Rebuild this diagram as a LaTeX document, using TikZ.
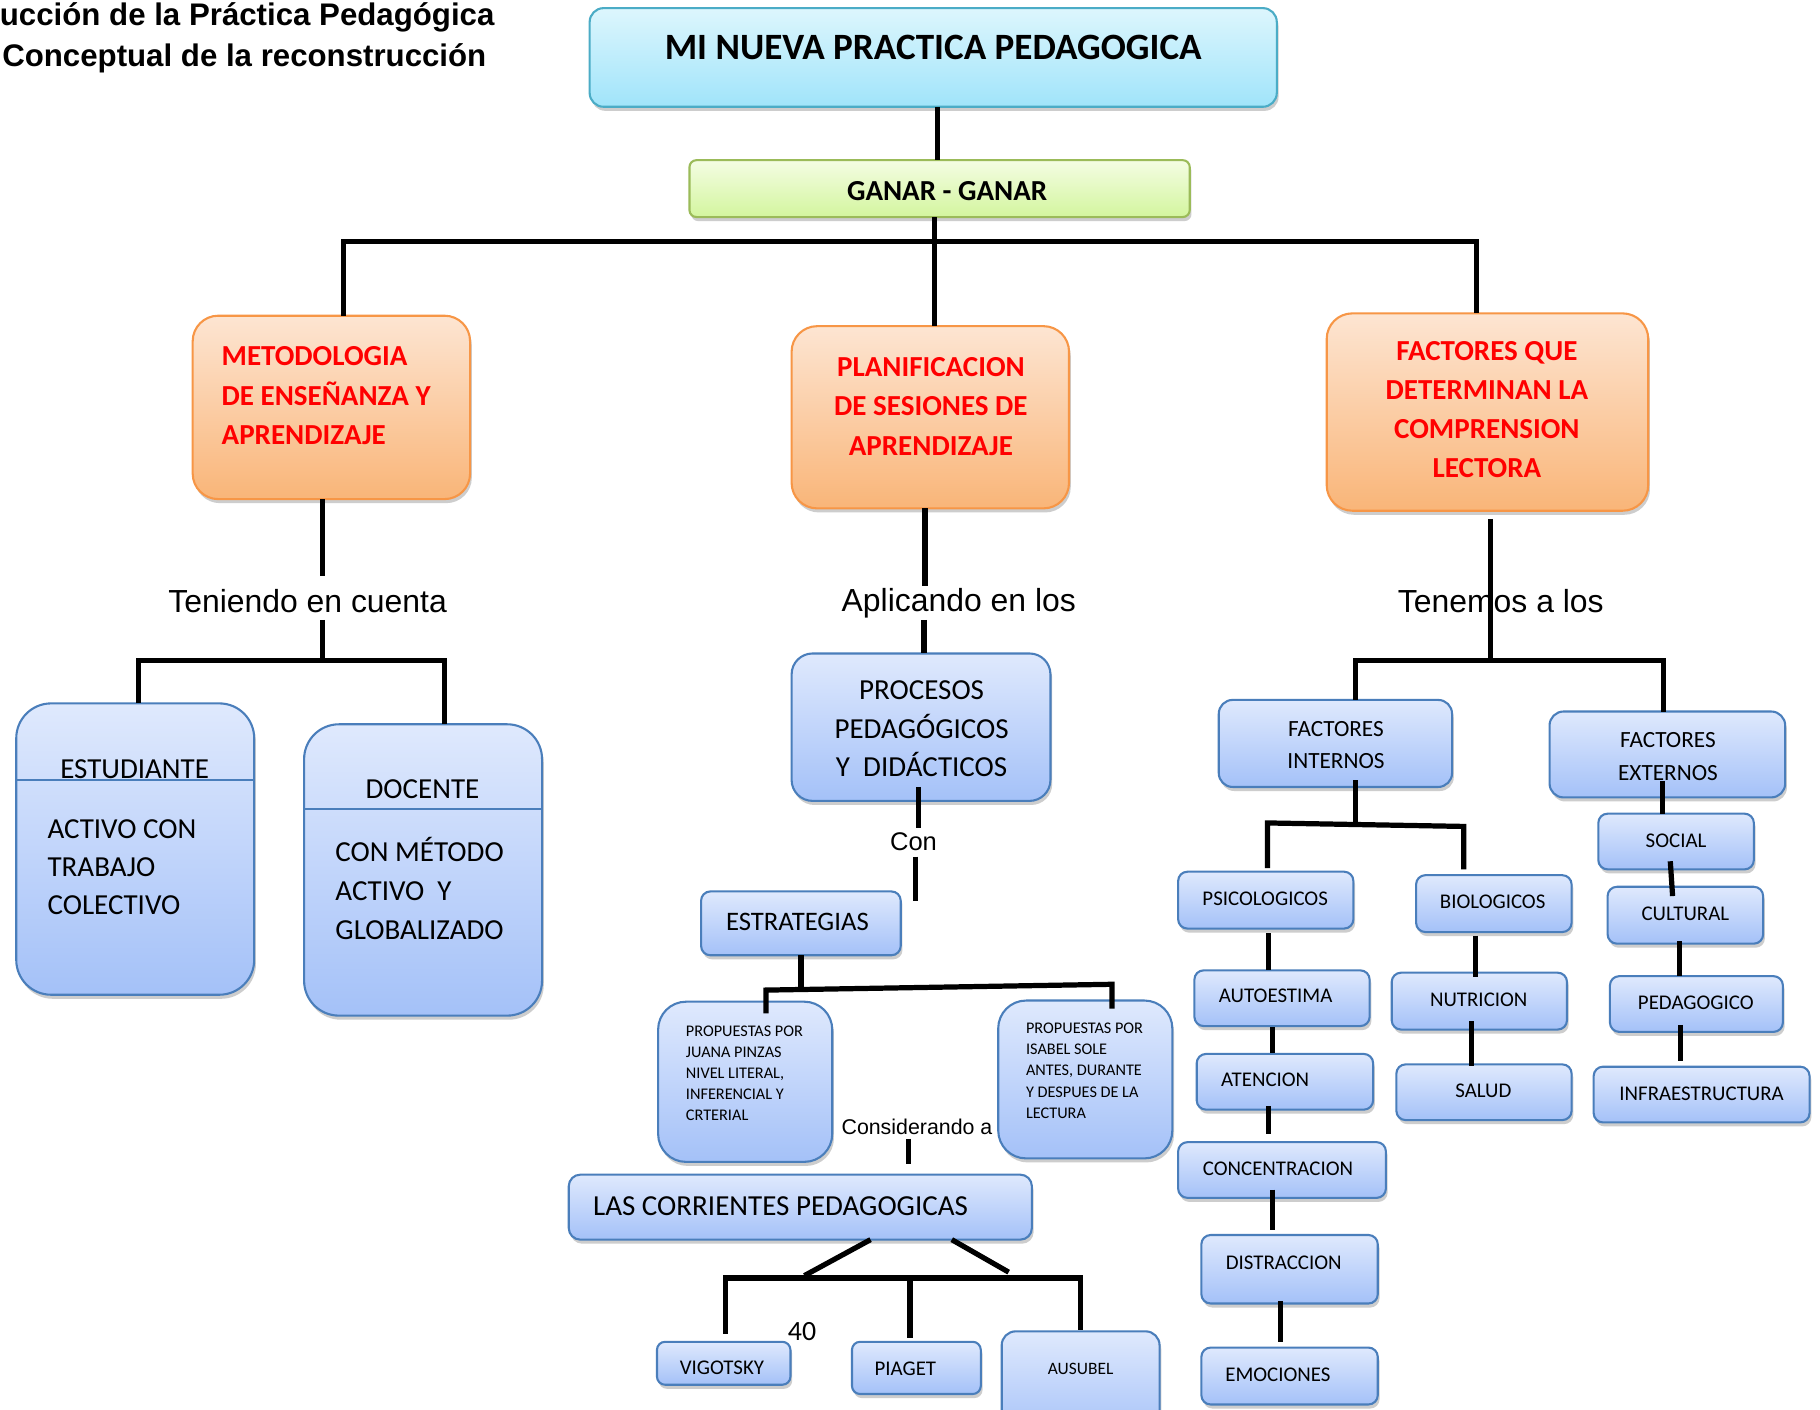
\documentclass[tikz,border=0pt]{standalone}
\usepackage{fontspec}
\setmainfont{Carlito}
\newfontfamily\arialf{Liberation Sans}
\usetikzlibrary{shadows,calc}
\definecolor{cyantop}{HTML}{DDF6FD}
\definecolor{cyanbot}{HTML}{A0E4FA}
\definecolor{cyanbd}{HTML}{4BACC6}
\definecolor{greentop}{HTML}{F4FDE3}
\definecolor{greenbot}{HTML}{D3F59E}
\definecolor{greenbd}{HTML}{9BBB59}
\definecolor{orangetop}{HTML}{FDE5D2}
\definecolor{orangebot}{HTML}{F9B578}
\definecolor{orangebd}{HTML}{F79646}
\definecolor{bluetop}{HTML}{DFE9FD}
\definecolor{bluebot}{HTML}{A4C1F8}
\definecolor{bluebd}{HTML}{4A7EBB}
\newcommand\myfs[2]{\fontsize{#1}{#2}\selectfont}
\newcommand\mkbox[6]{\node[#1, minimum width={(#5)-(#3)}, minimum height={(#6)-(#4)}] (#2) at ({((#3)+(#5))/2},{((#4)+(#6))/2}) {};}
\tikzset{
  shadowed/.style={drop shadow={shadow xshift=1.5pt, shadow yshift=-3.5pt, opacity=0.28, fill=black!70}},
  boxbase/.style={draw, line width=1.8pt, outer sep=0pt, inner sep=0pt, shadowed},
  cyanbox/.style={boxbase, draw=cyanbd, top color=cyantop, bottom color=cyanbot, rounded corners=12pt},
  greenbox/.style={boxbase, draw=greenbd, top color=greentop, bottom color=greenbot, rounded corners=6pt},
  orangebox/.style={boxbase, draw=orangebd, top color=orangetop, bottom color=orangebot, rounded corners=22pt},
  bluebox/.style={boxbase, draw=bluebd, top color=bluetop, bottom color=bluebot, rounded corners=#1},
  bluebox/.default=8pt,
  conn/.style={line width=4.5pt, black},
  divline/.style={line width=1.8pt, draw=bluebd},
  txt/.style={inner sep=0pt, outer sep=0pt},
  redtxt/.style={txt, text=red, font=\bfseries\myfs{25}{34}},
  lbl/.style={txt, font=\arialf\myfs{27.5}{32}},
  btxt/.style={txt, font=\myfs{25}{33}},
  stxt/.style={txt, font=\myfs{14}{18.2}},
  mtxt/.style={txt, font=\myfs{18}{22}},
}
\begin{document}
\begin{tikzpicture}[x=1pt,y=-1pt]
\fill[white] (0,0) rectangle (1568,1214);
\useasboundingbox (0,0) rectangle (1568,1214);

% ---------- boxes ----------
\mkbox{cyanbox}{mi}{508}{7}{1100}{92}
\mkbox{greenbox}{ganar}{594}{138}{1025}{187}
\mkbox{orangebox}{metod}{166}{272}{405}{430}
\mkbox{orangebox}{plan}{682}{281}{921}{438}
\mkbox{orangebox}{factq}{1143}{270}{1420}{440}
\mkbox{bluebox=30pt}{estu}{14}{606}{219}{857}
\mkbox{bluebox=30pt}{doce}{262}{624}{467}{875}
\mkbox{bluebox=18pt}{proc}{682}{563}{905}{690}
\mkbox{bluebox=8pt}{estr}{604}{768}{776}{823}
\mkbox{bluebox=24pt}{juana}{567}{863}{717}{1001}
\mkbox{bluebox=24pt}{isabel}{860}{862}{1010}{998}
\mkbox{bluebox=10pt}{corr}{490}{1012}{889}{1068}
\mkbox{bluebox=7pt}{vigo}{566}{1156}{681}{1193}
\mkbox{bluebox=7pt}{piag}{734}{1156}{845}{1201}
\mkbox{bluebox=12pt}{ausu}{863}{1147}{999}{1240}
\mkbox{bluebox=12pt}{fint}{1050}{603}{1251}{678}
\mkbox{bluebox=12pt}{fext}{1335}{613}{1538}{687}
\mkbox{bluebox}{psico}{1015}{751}{1166}{800}
\mkbox{bluebox}{auto}{1029}{836}{1180}{884}
\mkbox{bluebox}{aten}{1031}{908}{1183}{956}
\mkbox{bluebox}{conc}{1015}{984}{1194}{1032}
\mkbox{bluebox}{dist}{1035}{1064}{1187}{1123}
\mkbox{bluebox}{emoc}{1035}{1161}{1187}{1210}
\mkbox{bluebox}{bio}{1220}{754}{1354}{803}
\mkbox{bluebox}{nutr}{1199}{838}{1350}{887}
\mkbox{bluebox}{salud}{1203}{917}{1354}{965}
\mkbox{bluebox}{soc}{1377}{701}{1511}{749}
\mkbox{bluebox}{cult}{1385}{764}{1519}{813}
\mkbox{bluebox}{peda}{1387}{841}{1536}{889}
\mkbox{bluebox}{infra}{1373}{919}{1559}{967}

\draw[divline] ($(estu.north west)+(0,66)$) -- ($(estu.north east)+(0,66)$);
\draw[divline] ($(doce.north west)+(0,73)$) -- ($(doce.north east)+(0,73)$);

% ---------- texts ----------
\node[txt, anchor=base east, font=\arialf\bfseries\myfs{26.9}{30}] (ti1) at (426,22) {ucción de la Práctica Pedagógica};
\node[txt, anchor=base east, font=\arialf\bfseries\myfs{26.9}{30}] (ti2) at (419,57) {Conceptual de la reconstrucción};

\node[txt, font=\bfseries\myfs{32}{36}] (tmi) at (804,41) {MI NUEVA PRACTICA PEDAGOGICA};
\node[txt, font=\bfseries\myfs{25}{28}] (tganar) at (816,165) {GANAR - GANAR};
\node[redtxt, anchor=west, align=left] (tmetod) at (191,341) {METODOLOGIA\\DE ENSEÑANZA Y\\APRENDIZAJE};
\node[redtxt, align=center] (tplan) at (802,350) {PLANIFICACION\\DE SESIONES DE\\APRENDIZAJE};
\node[redtxt, align=center, font=\bfseries\myfs{25}{33.5}] (tfact) at (1281,353) {FACTORES QUE\\DETERMINAN LA\\COMPRENSION\\LECTORA};

\node[lbl] (lab1) at (265,518) {Teniendo en cuenta};
\node[lbl] (lab2) at (826,520) {Aplicando en los};
\node[lbl] (lab3) at (1293,518) {Tenemos a los};

\node[btxt] (testu) at (116,663) {ESTUDIANTE};
\node[btxt, anchor=west, align=left] (testub) at (41,747) {ACTIVO CON\\TRABAJO\\COLECTIVO};
\node[btxt] (tdoce) at (364,680) {DOCENTE};
\node[btxt, anchor=west, align=left, font=\myfs{25}{33.5}] (tdoceb) at (289,765.5) {CON MÉTODO\\ACTIVO\ \ Y\\GLOBALIZADO};
\node[btxt, align=center] (tproc) at (794,628) {PROCESOS\\PEDAGÓGICOS\\Y\ \ DIDÁCTICOS};
\node[lbl, font=\arialf\myfs{22}{26}] (lab4) at (787,725) {Con};
\node[txt, font=\myfs{23}{27}] (testr) at (687,794) {ESTRATEGIAS};
\node[stxt, anchor=west, align=left] (tjuana) at (591,924.5) {PROPUESTAS POR\\JUANA PINZAS\\NIVEL LITERAL,\\INFERENCIAL Y\\CRTERIAL};
\node[stxt, anchor=west, align=left] (tisabel) at (884,922.5) {PROPUESTAS POR\\ISABEL SOLE\\ANTES, DURANTE\\Y DESPUES DE LA\\LECTURA};
\node[lbl, font=\arialf\myfs{18.4}{22}] (lab5) at (790,971) {Considerando a};
\node[btxt, anchor=west] (tcorr) at (511,1039) {LAS CORRIENTES PEDAGOGICAS};
\node[txt, font=\myfs{24}{28}] (t40) at (691,1147) {40};
\node[mtxt] (tvigo) at (622,1178) {VIGOTSKY};
\node[mtxt] (tpiag) at (780,1179) {PIAGET};
\node[txt, font=\myfs{15}{18}] (tausu) at (931,1179) {AUSUBEL};
\node[txt, font=\myfs{20}{28}, align=center] (tfint) at (1151,642) {FACTORES\\INTERNOS};
\node[txt, font=\myfs{20}{28}, align=center] (tfext) at (1437,652) {FACTORES\\EXTERNOS};
\node[mtxt] (tpsico) at (1090,774) {PSICOLOGICOS};
\node[mtxt] (tauto) at (1099,858) {AUTOESTIMA};
\node[mtxt] (taten) at (1090,930) {ATENCION};
\node[mtxt] (tconc) at (1101,1007) {CONCENTRACION};
\node[mtxt] (tdist) at (1106,1088) {DISTRACCION};
\node[mtxt] (temoc) at (1101,1184) {EMOCIONES};
\node[mtxt] (tbio) at (1286,777) {BIOLOGICOS};
\node[mtxt] (tnutr) at (1274,861) {NUTRICION};
\node[mtxt] (tsalud) at (1278,940) {SALUD};
\node[mtxt] (tsoc) at (1444,724) {SOCIAL};
\node[mtxt] (tcult) at (1452,787) {CULTURAL};
\node[mtxt] (tpeda) at (1461,864) {PEDAGOGICO};
\node[mtxt] (tinfra) at (1466,942) {INFRAESTRUCTURA};

% ---------- junction coordinates ----------
\coordinate (bus1) at (805,208);
\coordinate (l1a) at (278,496);
\coordinate (l1b) at (278,534);
\coordinate (bus2) at (278,569);
\coordinate (l2a) at (797,505);
\coordinate (l2b) at (796,534);
\coordinate (bus3) at (1284,569);
\coordinate (l3a) at (791,713);
\coordinate (l3b) at (789,738);
\coordinate (l4) at (783,981);
\coordinate (d1) at (693,1099);
\coordinate (d2) at (869,1096);
\coordinate (bus5) at (784,1101);
\coordinate (bus6) at (1168,710);
\coordinate (b6l) at (1092,709);
\coordinate (b6r) at (1261,712);

% ---------- connectors ----------
\draw[conn] ($(mi.south)+(4,0)$) -- ($(ganar.north)+(-1.5,0)$);
\draw[conn] ($(ganar.south)+(-4.5,0)$) -- (bus1);
\draw[conn] ($(metod.north)+(10.5,0)$) |- (bus1) -| ($(factq.north)+(-9.5,0)$);
\draw[conn] (bus1) -- ($(plan.north)+(3.5,0)$);

\draw[conn] ($(metod.south)+(-7.5,0)$) -- (l1a);
\draw[conn] (l1b) -- (bus2);
\draw[conn] ($(estu.north)+(2.5,0)$) |- (bus2) -| ($(doce.north)+(18.5,0)$);

\draw[conn] ($(plan.south)+(-4.5,0)$) -- (l2a);
\draw[conn] (l2b) -- ($(proc.north)+(2.5,0)$);

\draw[conn] ($(factq.south)+(2.5,7)$) -- (bus3);
\draw[conn] ($(fint.north)+(17.5,0)$) |- (bus3) -| ($(fext.north)+(-3.5,0)$);

\draw[conn] ($(proc.south)+(-2.5,-12)$) -- (l3a);
\draw[conn] (l3b) -- ($(estr.north east)+(13,8)$);

\draw[conn] (estr.south) -- ($(estr.south)+(0,32)$);
\draw[conn] ($(juana.north)+(18,10)$) -- ($(juana.north)+(18,-10)$) -- ($(isabel.north)+(23,-14)$) -- ($(isabel.north)+(23,7)$);

\draw[conn] (l4) -- ($(corr.north)+(93.5,-9)$);

\draw[conn] ($(corr.south)+(60.5,0)$) -- (d1);
\draw[conn] ($(corr.south)+(130.5,0)$) -- (d2);
\draw[conn] ($(vigo.north)+(1.5,-7)$) |- (bus5) -| ($(ausu.north)+(0,-1)$);
\draw[conn] (bus5) -- ($(piag.north)+(-5.5,-3)$);

\draw[conn] ($(fint.south)+(17.5,-6)$) -- (bus6);
\draw[conn] ($(psico.north)+(1.5,-3)$) -- (b6l) -- (b6r) -- ($(bio.north)+(-26,-5)$);
\draw[conn] ($(fext.south)+(-4.5,-14)$) -- ($(soc.north)+(-12,0)$);

\draw[conn] ($(psico.south)+(2.5,4)$) -- ($(auto.north)+(-11.5,0)$);
\draw[conn] ($(auto.south)+(-8.5,1)$) -- ($(aten.north)+(-11,-1)$);
\draw[conn] ($(aten.south)+(-14,-3)$) -- ($(conc.north)+(-11.5,-7)$);
\draw[conn] ($(conc.south)+(-8.5,-7)$) -- ($(dist.north)+(-15,-4)$);
\draw[conn] ($(dist.south)+(-8,-2)$) -- ($(emoc.north)+(-8,-5)$);
\draw[conn] ($(bio.south)+(-16,3)$) -- ($(nutr.north)+(-3.5,4)$);
\draw[conn] ($(nutr.south)+(-6.5,-7)$) -- ($(salud.north)+(-10.5,1)$);
\draw[conn] ($(soc.south)+(-5,-7)$) -- ($(cult.north)+(-11,8)$);
\draw[conn] ($(cult.south)+(-5,-2)$) -- ($(peda.north)+(-14.5,0)$);
\draw[conn] ($(peda.south)+(-13.5,-6)$) -- ($(infra.north)+(-18,-5)$);
\end{tikzpicture}
\end{document}
